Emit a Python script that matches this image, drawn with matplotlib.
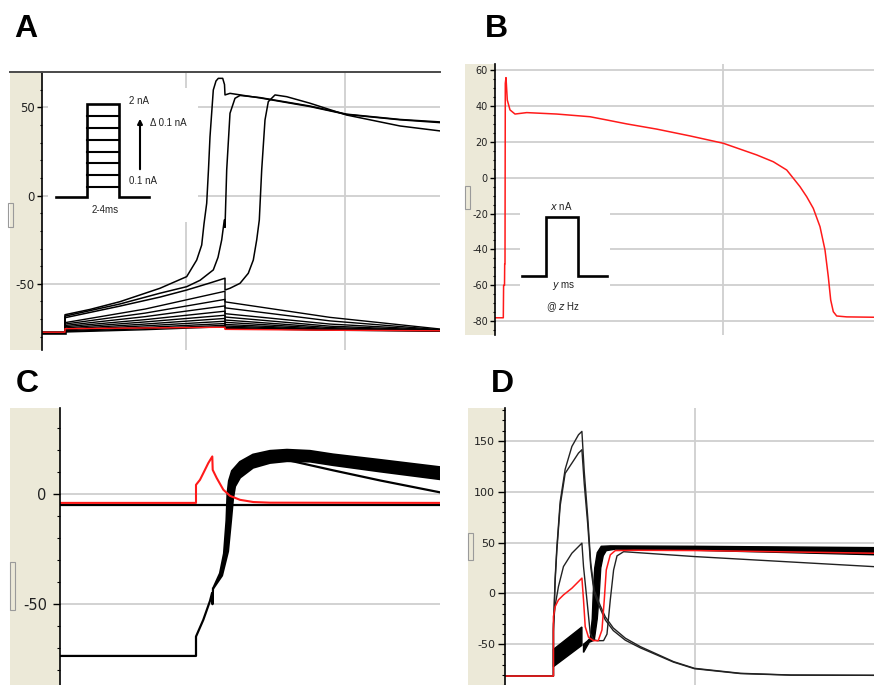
import numpy as np
import matplotlib.pyplot as plt
from matplotlib.patches import Rectangle
from matplotlib.lines import Line2D
from matplotlib.ticker import MultipleLocator

plt.rcParams['axes.unicode_minus'] = False
plt.rcParams['font.family'] = ['DejaVu Sans']

W, H = 874, 685
BEIGE = '#ECE9D8'
GRID = '#CFCFCF'

# ---------------- panel A (t: ms from axis start, v: mV)
a_ap1_t = [0, 23, 23, 48, 78, 118, 144.7, 154.7, 159.7, 162, 164.7, 166.5, 168, 171.3, 174,
           176.3, 180.7, 182.5, 183, 188, 218, 268, 304.7, 358, 398]
a_ap1_v = [-77.7, -77.7, -67.5, -64.5, -60.1, -52.5, -45.9, -36.5, -28, -16, -4.3, 15, 33.4, 59.9, 65,
           66.5, 66.5, 63, 57.1, 58, 55.4, 50.5, 46, 43, 41.4]
a_ap2_t = [0, 23, 23, 78, 118, 144.7, 158, 171.3, 176, 179.7, 182.3, 183, 184.7, 188, 193, 198,
           218, 268, 304.7, 358, 398]
a_ap2_v = [-77.7, -77.7, -68.3, -61.4, -55.3, -51.6, -48, -42.1, -35, -25.1, -13.8, -18, 14.6, 46.7,
           55.2, 56.8, 55.6, 50.8, 46.2, 43.2, 41.8]
a_ap3_t = [0, 23, 23, 78, 118, 144.7, 168, 183, 183, 188, 198, 206.3, 211.3, 214.7, 217.3, 219.7,
           223, 226.3, 233, 244.7, 268, 304.7, 358, 398]
a_ap3_v = [-77.7, -77.7, -69.2, -62.6, -57.5, -53.5, -49.5, -46.8, -53.5, -52.5, -49.7, -44, -36.5,
           -25.1, -13.8, 14.6, 42.9, 53.3, 57.1, 56.1, 52.4, 45.7, 39.5, 36.7]

# subthreshold sweeps, values at t = 0, 23, 23, 103, 183, 183, 288, 398
a_sub_t = [0, 23, 23, 103, 183, 183, 288, 398]
a_sub_on = [-72.0, -72.8, -73.6, -74.3, -75.0, -75.6, -76.1, -76.6, -77.0, -77.3]
a_sub_mid = [-64.3, -66.6, -68.6, -70.3, -71.6, -72.8, -73.8, -74.7, -75.4, -76.0]
a_sub_end = [-54.2, -58.8, -62.5, -65.5, -67.8, -69.6, -71.2, -72.5, -73.5, -74.3]
a_sub_post = [-60.2, -63.6, -66.9, -68.8, -70.5, -71.8, -73.0, -73.9, -74.6, -75.2]
a_sub_late = [-69.0, -71.0, -72.8, -74.0, -74.8, -75.4, -75.8, -76.0, -76.2, -76.3]
a_sub_fin = [-75.6, -76.0, -76.2, -76.4, -76.5, -76.6, -76.6, -76.7, -76.7, -76.7]
a_rest = -77.7

a_red_t = [0, 23, 23, 183, 183, 288, 398]
a_red_v = [-77.4, -77.4, -75.4, -74.6, -75.8, -76.3, -76.6]

a_steps = [116, 128, 140, 151.5, 163, 175, 186.5]   # staircase rungs (inset px)

# ---------------- panel B
b_t = [0, 8.3, 8.6, 9.5, 9.7, 10, 10.3, 11, 12.3, 15, 20, 31.7, 61.7, 95, 111.7, 131.7, 161.7,
       195, 228.3, 261.7, 278.3, 291.7, 298.3, 305, 311.7, 318.3, 325, 330, 333.3, 335.7, 338.3,
       341.7, 351.7, 379]
b_v = [-78.1, -78.1, -60, -60, -48, -48, 52.6, 55.8, 43.3, 37.8, 35.5, 36.3, 35.5, 34, 32.2, 30,
       27.1, 23.3, 19.2, 12.7, 8.9, 4.3, -0.3, -5, -10.6, -17.1, -27.3, -40.3, -55.2, -68.2, -74.7,
       -77.1, -77.6, -77.8]

# ---------------- panel C
c_red_t = [0, 136, 136, 140, 143.3, 148.3, 152.3, 152.7, 156.7, 163.3, 170, 180, 193.3, 210, 380]
c_red_v = [-4.0, -4.0, 4.2, 6.5, 9.5, 14.1, 17.1, 11, 7.3, 2, -0.8, -2.6, -3.6, -3.9, -4.0]
c_hold_t = [0, 380]
c_hold_v = [-5.0, -5.0]
c_ramp_t = [0, 136, 136, 143.3, 150, 152, 152.5, 153]
c_ramp_v = [-73.5, -73.5, -64.7, -57.1, -48.5, -45, -50, -43]
c_up_t = [153, 160, 164, 166.5, 167.5, 169, 172, 180, 193, 210, 227, 250, 273, 320, 380]
c_up_v = [-43, -36, -27, -12, 0, 6, 10.5, 14.6, 17.9, 19.6, 20.1, 19.6, 18.0, 15.5, 12.2]
c_lo_t = [153, 162, 168, 171, 173, 175, 180, 193, 210, 227, 250, 273, 320, 380]
c_lo_v = [-43, -37, -26, -12, -2, 3.5, 7.5, 12, 14.2, 15, 14.8, 13.2, 10.3, 6.8]
c_fast_t = [210, 220, 273, 320, 380]
c_fast_v = [17.5, 16.2, 10.8, 6.2, 0.8]

# ---------------- panel D
d_red_t = [0, 48.3, 48.3, 50, 53.3, 58.3, 66.7, 76.7, 78.3, 80, 83.3, 88.3, 93, 96.7, 99, 101,
           105, 110, 128.3, 195, 368]
d_red_v = [-81.2, -81.2, -22.8, -13, -6.4, -1.5, 5.1, 15, -6.4, -32.7, -43.1, -46.4, -46.4, -35.9,
           -6.4, 23.1, 37.9, 42.1, 42.4, 42.1, 39.5]
d_big_t = [0, 48.3, 48.3, 50, 51.7, 55, 60, 66.7, 73.3, 76.7, 79, 82.5, 85.5, 89, 95, 100, 108,
           120, 135, 168, 189, 235, 285, 368]
d_big1_v = [-81.2, -81.2, -35, 15, 45, 90, 122, 144.4, 155.9, 159.2, 120, 75, 30, 3, -12, -23,
            -34, -44, -52.3, -67, -73.6, -78.5, -80.2, -80.5]
d_big2_v = [-81.2, -81.2, -38, 12, 42, 86, 118, 128, 137.9, 141.2, 108, 68, 26, 0, -15, -26,
            -36.5, -46, -53.5, -67.5, -74, -78.8, -80.3, -80.5]
d_mid_t = [0, 48.3, 48.3, 50, 53.3, 58.3, 66.7, 76.7, 78.3, 81.7, 85, 88.3, 92, 98.3, 101.7, 105,
           108.3, 111.7, 118.3, 189.3, 368]
d_mid_v = [-81.2, -81.2, -30, -12, 6.7, 26.4, 39.5, 49.4, 26.4, -6.4, -39.2, -45.4, -46.5, -46.4,
           -40, -6.4, 23, 36.9, 41, 36.2, 26.3]
d_ramp_t = [48.3, 76.7]
d_ramp_up = [-55, -33]
d_ramp_lo = [-72, -51]
d_up_t = [78.3, 82, 85, 87, 88, 89.5, 92, 96, 105, 189, 368]
d_up_v = [-50, -47, -44, -25, 0, 25, 40, 46.3, 46.7, 46.3, 45]
d_lo_t = [78.3, 84, 89, 92, 94, 95.5, 98, 101, 110, 189, 368]
d_lo_v = [-58, -48, -46, -25, 0, 25, 37, 42, 43.5, 42.4, 38]

fig = plt.figure(figsize=(W / 100, H / 100), dpi=100)


def frac(x0, y0, x1, y1):
    return [x0 / W, 1 - y1 / H, (x1 - x0) / W, (y1 - y0) / H]


def panel(x0, y0, x1, y1, bx, xlim, ylim, major, minor, fs, pad, tl, gx=()):
    fig.add_artist(Rectangle((bx / W, 1 - y1 / H), (x0 - bx) / W, (y1 - y0) / H,
                             transform=fig.transFigure, facecolor=BEIGE,
                             edgecolor='none', zorder=-1))
    ax = fig.add_axes(frac(x0, y0, x1, y1))
    ax.set_xlim(*xlim)
    ax.set_ylim(*ylim)
    for s in ('top', 'right', 'bottom'):
        ax.spines[s].set_visible(False)
    ax.spines['left'].set_linewidth(1.2)
    ax.yaxis.set_major_locator(MultipleLocator(major))
    ax.yaxis.set_minor_locator(MultipleLocator(minor))
    ax.set_xticks(list(gx))
    ax.tick_params(axis='x', length=0, labelbottom=False)
    ax.tick_params(axis='y', which='major', length=tl, width=1, labelsize=fs,
                   pad=pad, labelcolor='#222222')
    ax.tick_params(axis='y', which='minor', length=tl * 0.5, width=0.8)
    ax.grid(True, which='major', color=GRID, lw=1.3)
    ax.set_axisbelow(True)
    return ax


def bracket(x0, y0, x1, y1):
    fig.add_artist(Rectangle((x0 / W, 1 - y1 / H), (x1 - x0) / W, (y1 - y0) / H,
                             transform=fig.transFigure, facecolor='none',
                             edgecolor='#9a9a9a', lw=0.8))


def label(x, y, s):
    fig.text(x / W, 1 - y / H, s, fontsize=23, fontweight='bold', ha='center',
             va='center', family='Liberation Sans')


# ---- A
axA = panel(42, 72, 440, 350, 10, (0, 398), (-87.5, 70.1), 50, 10, 8.5, 1.5, 3.6, gx=(144, 303))
for i in range(len(a_sub_on)):
    vv = [a_rest, a_rest, a_sub_on[i], a_sub_mid[i], a_sub_end[i], a_sub_post[i],
          a_sub_late[i], a_sub_fin[i]]
    axA.plot(a_sub_t, vv, color='black', lw=1.0)
for tt, vv in ((a_ap3_t, a_ap3_v), (a_ap2_t, a_ap2_v), (a_ap1_t, a_ap1_v)):
    axA.plot(tt, vv, color='black', lw=1.1)
axA.plot([0, 23], [a_rest, a_rest], color='black', lw=2.6)
axA.plot(a_red_t, a_red_v, color='#ff1a1a', lw=1.0)
fig.add_artist(Line2D([10 / W, 440 / W], [1 - 72 / H] * 2, transform=fig.transFigure,
                      color='#4a4a4a', lw=1.4))
bracket(8, 203, 13, 227)

insA = fig.add_axes(frac(48, 88, 198, 222))
insA.set_xlim(48, 198)
insA.set_ylim(222, 88)
insA.set_xticks([])
insA.set_yticks([])
for s in insA.spines.values():
    s.set_visible(False)
insA.plot([56, 86.7, 86.7, 119, 119, 149.3], [196.5, 196.5, 104, 104, 196.5, 196.5],
          color='black', lw=1.9, solid_joinstyle='miter')
for y in a_steps:
    insA.plot([86.7, 119], [y, y], color='black', lw=1.5)
insA.annotate('', xy=(140, 116), xytext=(140, 172),
              arrowprops=dict(arrowstyle='-|>', color='black', lw=1.5, mutation_scale=7))
tk = dict(fontsize=7, family='Liberation Sans', color='#222222', va='center')
insA.text(129, 101.5, '2 nA', ha='left', **tk)
insA.text(150, 122.5, '\u0394 0.1 nA', ha='left', **tk)
insA.text(129, 181.5, '0.1 nA', ha='left', **tk)
insA.text(105.5, 210, '2-4ms', ha='center', **tk)

# ---- B
axB = panel(495, 64, 874, 335, 465, (0, 379), (-87.7, 63.4), 20, 5, 7, 1.5, 3.6, gx=(227.7,))
axB.plot(b_t, b_v, color='#ff1a1a', lw=1.1)
bracket(465, 186, 470, 209)

insB = fig.add_axes(frac(520, 198, 610, 316))
insB.set_xlim(520, 610)
insB.set_ylim(316, 198)
insB.set_xticks([])
insB.set_yticks([])
for s in insB.spines.values():
    s.set_visible(False)
insB.plot([522.3, 545.7, 545.7, 578.3, 578.3, 606.7], [275.7, 275.7, 217.3, 217.3, 275.7, 275.7],
          color='black', lw=1.9, solid_joinstyle='miter')
insB.text(561, 206, '$x$ nA', ha='center', **tk)
insB.text(564, 285.5, '$y$ ms', ha='center', **tk)
insB.text(562.5, 307.5, '@ $z$ Hz', ha='center', **tk)

# ---- C
axC = panel(60, 408, 440, 685, 10, (0, 380), (-86.7, 39.1), 50, 10, 10.5, 4.5, 5)
axC.plot(c_hold_t, c_hold_v, color='black', lw=1.6)
axC.plot(c_ramp_t, c_ramp_v, color='black', lw=1.6)
axC.fill(c_up_t + c_lo_t[::-1], c_up_v + c_lo_v[::-1], color='black', lw=1.6)
axC.plot(c_fast_t, c_fast_v, color='black', lw=1.6)
axC.plot(c_red_t, c_red_v, color='#ff1a1a', lw=1.5)
bracket(10, 562, 15, 610)

# ---- D
axD = panel(505, 408, 874, 685, 468, (0, 368), (-90, 182.2), 50, 10, 8, 2.4, 4.8, gx=(189.3,))
axD.fill(d_ramp_t + d_ramp_t[::-1], d_ramp_up + d_ramp_lo[::-1], color='black', lw=1.0)
axD.fill(d_up_t + d_lo_t[::-1], d_up_v + d_lo_v[::-1], color='black', lw=1.0)
axD.plot(d_big_t, d_big1_v, color='#222222', lw=1.0)
axD.plot(d_big_t, d_big2_v, color='#222222', lw=1.0)
axD.plot(d_mid_t, d_mid_v, color='#222222', lw=1.0)
axD.plot(d_red_t, d_red_v, color='#ff1a1a', lw=1.1)
bracket(468, 533, 473, 560)

label(26, 29, 'A')
label(496, 29, 'B')
label(27, 384, 'C')
label(502, 384, 'D')

fig.savefig('out.png', dpi=100)
